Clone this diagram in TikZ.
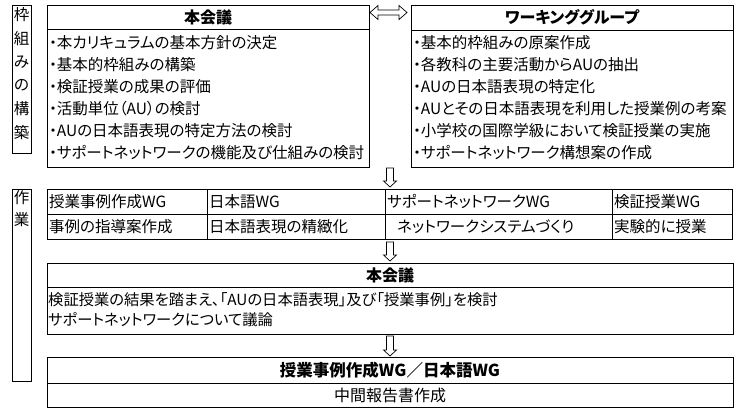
\documentclass[tikz,border=0pt]{standalone}
\usepackage{fontspec}
\setmainfont{Noto Sans CJK JP}[RawFeature=+palt]
\begin{document}
\begin{tikzpicture}[x=1pt,y=-1pt,
  box/.style={draw, line width=0.8pt, inner sep=0pt, anchor=north west},
  rule/.style={line width=0.8pt},
  txt/.style={anchor=west, inner sep=0pt, font=\fontsize{15.5}{16}\selectfont},
  stxt/.style={anchor=west, inner sep=0pt, font=\fontsize{15.3}{16}\selectfont},
  ctxt/.style={inner sep=0pt, font=\fontsize{16}{16}\selectfont},
  ttl/.style={inner sep=0pt, font=\fontsize{16}{16}\selectfont\bfseries},
  bttl/.style={inner sep=0pt, font=\fontsize{16.5}{17}\selectfont\bfseries},
  vlab/.style={inner sep=0pt, font=\fontsize{15.5}{16}\selectfont},
  harrow/.style={draw, line width=0.7pt, fill=white}]
\useasboundingbox (0,0) rectangle (749,416);
% left labels
\node[box, minimum width=19pt, minimum height=148pt] (lab1) at (12,5) {};
\foreach \c [count=\i from 0] in {枠,組,み,の,構,築}
  \node[vlab] (l1\i) at (21.5,{15+23.5*\i}) {\c};
\node[box, minimum width=19pt, minimum height=192pt] (lab2) at (12,189) {};
\node[vlab] (l2a) at (21.5,198) {作};
\node[vlab] (l2b) at (21.5,220) {業};
% top left box
\node[box, minimum width=322pt, minimum height=162pt] (hk) at (47,5) {};
\draw[rule] (47,29) -- (369,29);
\node[ttl] (hkt) at (208,17) {本会議};
\node[txt] (hk1) at (49,43) {・本カリキュラムの基本方針の決定};
\node[txt] (hk2) at (49,65) {・基本的枠組みの構築};
\node[txt] (hk3) at (49,87) {・検証授業の成果の評価};
\node[txt] (hk4) at (49,109) {・活動単位（AU）の検討};
\node[txt] (hk5) at (49,131) {・AUの日本語表現の特定方法の検討};
\node[txt] (hk6) at (49,153) {・サポートネットワークの機能及び仕組みの検討};
% top right box
\node[box, minimum width=322pt, minimum height=162pt] (wg) at (411,5) {};
\draw[rule] (411,30) -- (733,30);
\node[ttl] (wgt) at (572,17) {ワーキンググループ};
\node[txt] (wg1) at (413,43) {・基本的枠組みの原案作成};
\node[txt] (wg2) at (413,65) {・各教科の主要活動からAUの抽出};
\node[txt] (wg3) at (413,87) {・AUの日本語表現の特定化};
\node[txt] (wg4) at (413,109) {・AUとその日本語表現を利用した授業例の考案};
\node[txt] (wg5) at (413,131) {・小学校の国際学級において検証授業の実施};
\node[txt] (wg6) at (413,153) {・サポートネットワーク構想案の作成};
% double arrow between boxes
\draw[harrow] (370,12.5) -- (378,5.5) -- (378,10) -- (399,10) -- (399,5.5) -- (407,12.5)
  -- (399,19.5) -- (399,15) -- (378,15) -- (378,19.5) -- cycle;
% arrow 1
\draw[harrow] (386.5,168) -- (393.5,168) -- (393.5,181) -- (396.5,181) -- (390,187)
  -- (383.5,181) -- (386.5,181) -- cycle;
% table
\node[box, minimum width=685pt, minimum height=50pt] (tab) at (47,189) {};
\draw[rule] (47,214) -- (732,214);
\draw[rule] (207,189) -- (207,239);
\draw[rule] (385,189) -- (385,239);
\draw[rule] (612,189) -- (612,239);
\node[txt] (t11) at (49,201.5) {授業事例作成WG};
\node[txt] (t12) at (209,201.5) {日本語WG};
\node[txt] (t13) at (387,201.5) {サポートネットワークWG};
\node[txt] (t14) at (614,201.5) {検証授業WG};
\node[txt] (t21) at (49,226.5) {事例の指導案作成};
\node[txt] (t22) at (209,226.5) {日本語表現の精緻化};
\node[txt] (t23) at (397,226.5) {ネットワークシステムづくり};
\node[txt] (t24) at (614,226.5) {実験的に授業};
% arrow 2
\draw[harrow] (386.5,242) -- (393.5,242) -- (393.5,255) -- (396.5,255) -- (390,261)
  -- (383.5,255) -- (386.5,255) -- cycle;
% second meeting box
\node[box, minimum width=686pt, minimum height=71pt] (hk2b) at (47,263) {};
\draw[rule] (47,287) -- (733,287);
\node[ttl] (hk2t) at (390,275) {本会議};
\node[stxt] (hk2r1) at (48,299.5) {検証授業の結果を踏まえ、「AUの日本語表現」及び「授業事例」を検討};
\node[stxt] (hk2r2) at (48,320) {サポートネットワークについて議論};
% arrow 3
\draw[harrow] (386.5,336) -- (393.5,336) -- (393.5,350) -- (396.5,350) -- (390,356)
  -- (383.5,350) -- (386.5,350) -- cycle;
% last box
\node[box, minimum width=686pt, minimum height=50pt] (fin) at (47,357) {};
\draw[rule] (47,383) -- (733,383);
\node[bttl] (fint) at (390,370) {授業事例作成WG／日本語WG};
\node[ctxt] (finb) at (390,395) {中間報告書作成};
\end{tikzpicture}
\end{document}
